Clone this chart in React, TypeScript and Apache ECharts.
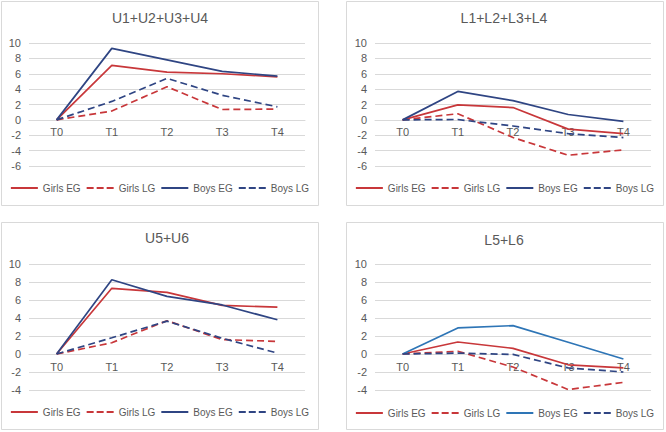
import React, { useEffect, useRef } from "react";
import * as echarts from "echarts";

const categories = ["T0", "T1", "T2", "T3", "T4"];
const seriesNames = ["Girls EG", "Girls LG", "Boys EG", "Boys LG"];
const panelTitles = ["U1+U2+U3+U4", "L1+L2+L3+L4", "U5+U6", "L5+L6"];

const u14GirlsEG = [0, 7.1, 6.2, 6.0, 5.6];
const u14GirlsLG = [0, 1.15, 4.3, 1.35, 1.4];
const u14BoysEG = [0, 9.3, 7.8, 6.3, 5.7];
const u14BoysLG = [0, 2.4, 5.4, 3.2, 1.7];

const l14GirlsEG = [0, 1.95, 1.6, -1.2, -1.8];
const l14GirlsLG = [0, 0.8, -2.3, -4.6, -3.9];
const l14BoysEG = [0, 3.7, 2.5, 0.7, -0.2];
const l14BoysLG = [0, 0.05, -0.8, -1.8, -2.3];

const u56GirlsEG = [0, 7.3, 6.85, 5.4, 5.2];
const u56GirlsLG = [0, 1.25, 3.7, 1.6, 1.4];
const u56BoysEG = [0, 8.25, 6.4, 5.45, 3.8];
const u56BoysLG = [0, 1.8, 3.65, 1.75, 0.1];

const l56GirlsEG = [0, 1.33, 0.63, -1.2, -1.55];
const l56GirlsLG = [0, 0.3, -1.45, -3.95, -3.15];
const l56BoysEG = [0, 2.9, 3.15, 1.3, -0.55];
const l56BoysLG = [0, 0.1, -0.05, -1.55, -2.0];

const panelData = [
  [u14GirlsEG, u14GirlsLG, u14BoysEG, u14BoysLG],
  [l14GirlsEG, l14GirlsLG, l14BoysEG, l14BoysLG],
  [u56GirlsEG, u56GirlsLG, u56BoysEG, u56BoysLG],
  [l56GirlsEG, l56GirlsLG, l56BoysEG, l56BoysLG],
];
const panelYMin = [-6, -6, -4, -4];
const yMax = 10;
const yInterval = 2;

const RED = "#C8373A";
const NAVY = "#2F4583";
const LIGHTBLUE = "#2E75B6";
const panelColors = [
  [RED, RED, NAVY, NAVY],
  [RED, RED, NAVY, NAVY],
  [RED, RED, NAVY, NAVY],
  [RED, RED, LIGHTBLUE, NAVY],
];
const seriesDashed = [false, true, false, true];

const SOLID_ICON = "path://M0,0H27V2H0Z";
const DASH_ICON = "path://M0,0H7V2H0Z M10,0H17V2H10Z M20,0H27V2H20Z";

// panel boxes (absolute page coords)
const panelBoxes = [
  { x: 1, y: 1, w: 318, h: 205 },
  { x: 346, y: 1, w: 318, h: 205 },
  { x: 1, y: 222, w: 318, h: 208 },
  { x: 346, y: 222, w: 318, h: 208 },
];
const panelGrids = [
  { left: 29, top: 43, width: 276, height: 123 },
  { left: 375, top: 43, width: 276, height: 123 },
  { left: 29, top: 264, width: 276, height: 126 },
  { left: 375, top: 264, width: 276, height: 126 },
];
const titleCenters = [
  { x: 160, y: 20 },
  { x: 504, y: 20 },
  { x: 167, y: 240 },
  { x: 504, y: 242 },
];
const legendPos = [
  { y: 189 },
  { y: 189 },
  { y: 413 },
  { y: 414 },
];

const TEXT = "#595959";
const GRIDC = "#D9D9D9";
const FONT = "'Liberation Sans', Arial, sans-serif";

function buildOption(p: number) {
  const b = panelBoxes[p];
  const g = panelGrids[p];
  const yMin = panelYMin[p];
  const series: any[] = [];
  const legendData: any[] = [];
  for (let s = 0; s < 4; s++) {
    const color = panelColors[p][s];
    series.push({
      type: "line",
      name: seriesNames[s],
      data: panelData[p][s],
      symbol: "none",
      lineStyle: { color, width: 1.7, type: seriesDashed[s] ? [7, 4] : "solid" },
      itemStyle: { color },
      z: 3,
    });
    legendData.push({
      name: seriesNames[s],
      icon: seriesDashed[s] ? DASH_ICON : SOLID_ICON,
      itemStyle: { color },
    });
  }
  // x axis sits at value 0 like the original chart
  const zeroOffset = -g.height * (0 - yMin) / (yMax - yMin);
  return {
    animation: false,
    backgroundColor: "#FFFFFF",
    title: {
      text: panelTitles[p],
      left: titleCenters[p].x - b.x,
      top: titleCenters[p].y - b.y - 9,
      textAlign: "center",
      padding: 0,
      textStyle: { color: TEXT, fontSize: 14, fontWeight: "normal", fontFamily: FONT },
    },
    legend: {
      data: legendData,
      left: "center",
      top: legendPos[p].y - b.y - 6,
      orient: "horizontal",
      itemWidth: 27,
      itemHeight: 2,
      itemGap: 6,
      selectedMode: false,
      padding: 0,
      textStyle: { color: TEXT, fontSize: 10, fontFamily: FONT },
    },
    grid: {
      left: g.left - b.x,
      top: g.top - b.y,
      width: g.width,
      height: g.height,
    },
    xAxis: {
      type: "category",
      data: categories,
      boundaryGap: true,
      position: "bottom",
      offset: zeroOffset,
      axisLine: { show: true, onZero: false, lineStyle: { color: GRIDC, width: 1 } },
      axisTick: { show: false },
      axisLabel: { color: TEXT, fontSize: 11, margin: 7, fontFamily: FONT },
      splitLine: { show: false },
    },
    yAxis: {
      type: "value",
      min: yMin,
      max: yMax,
      interval: yInterval,
      axisLine: { show: false },
      axisTick: { show: false },
      axisLabel: { color: TEXT, fontSize: 11, margin: 8, fontFamily: FONT },
      splitLine: { lineStyle: { color: GRIDC, width: 1 } },
    },
    series,
    graphic: [
      {
        type: "rect",
        shape: { x: 0.5, y: 0.5, width: b.w - 1, height: b.h - 1 },
        style: { fill: "none", stroke: GRIDC, lineWidth: 1 },
        silent: true,
        z: -1,
      },
    ],
  };
}

function Panel({ index }: { index: number }) {
  const ref = useRef<HTMLDivElement>(null);
  useEffect(() => {
    if (!ref.current) return;
    const chart = echarts.init(ref.current, undefined, { renderer: "svg" });
    chart.setOption(buildOption(index) as any);
    return () => chart.dispose();
  }, [index]);
  const b = panelBoxes[index];
  return (
    <div
      ref={ref}
      style={{ position: "absolute", left: b.x, top: b.y, width: b.w, height: b.h }}
    />
  );
}

export default function App() {
  useEffect(() => {
    document.body.style.margin = "0";
  }, []);
  return (
    <div style={{ position: "absolute", left: 0, top: 0, width: 666, height: 432, background: "#FFFFFF" }}>
      {[0, 1, 2, 3].map((i) => (
        <Panel key={i} index={i} />
      ))}
    </div>
  );
}
